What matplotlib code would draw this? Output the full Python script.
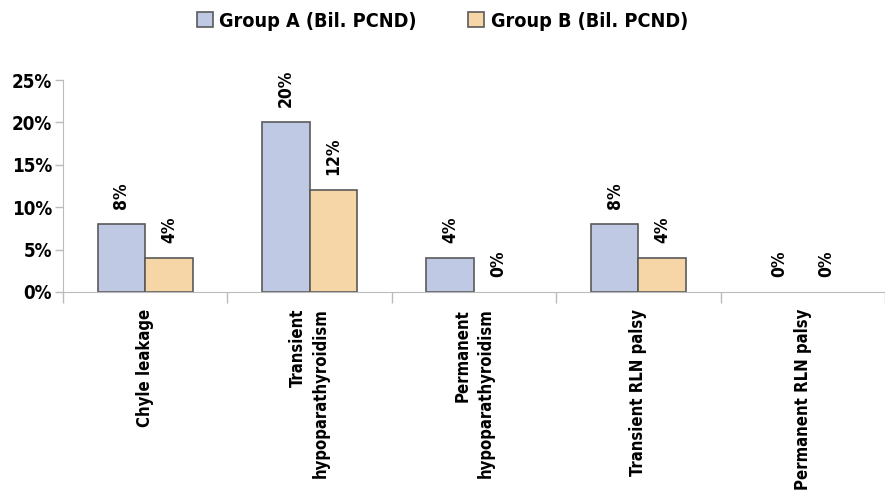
import matplotlib
matplotlib.use("Agg")
import matplotlib.pyplot as plt
import matplotlib.ticker as mtick
import numpy as np

# data
categories = ["Chyle leakage", "Transient\nhypoparathyroidism", "Permanent\nhypoparathyroidism",
              "Transient RLN palsy", "Permanent RLN palsy"]
group_a = [8, 20, 4, 8, 0]
group_b = [4, 12, 0, 4, 0]
series_names = ["Group A (Bil. PCND)", "Group B (Bil. PCND)"]

color_a = "#bfc9e4"
color_b = "#f6d6a6"
edge = "#5a5a5a"
axis_gray = "#bbbbbb"

plt.rcParams['font.family'] = ['DejaVu Sans']
plt.rcParams['font.stretch'] = 'condensed'
plt.rcParams['font.weight'] = 'bold'

fig = plt.figure(figsize=(8.85, 4.97), dpi=100)
ax = fig.add_axes([0.0712, 0.4125, 0.9288, 0.4265])

x = np.arange(len(categories))
w = 0.29
bars_a = ax.bar(x - w/2, group_a, w, color=color_a, edgecolor=edge, linewidth=1.2, label=series_names[0])
bars_b = ax.bar(x + w/2, group_b, w, color=color_b, edgecolor=edge, linewidth=1.2, label=series_names[1])

# value labels, no outline for empty bars
for bars, vals in ((bars_a, group_a), (bars_b, group_b)):
    for b, v in zip(bars, vals):
        if v == 0:
            b.set_linewidth(0)
        ax.annotate("%d%%" % v, (b.get_x() + b.get_width()/2, v), xytext=(0, 11),
                    textcoords="offset points", rotation=90, ha="center", va="bottom",
                    fontsize=12.5, fontweight="bold")

ax.set_xlim(-0.5, len(categories) - 0.5)
ax.set_ylim(0, 25)
ax.yaxis.set_major_locator(mtick.MultipleLocator(5))
ax.yaxis.set_major_formatter(mtick.FuncFormatter(lambda v, p: "%d%%" % v))

# category ticks at boundaries, labels at centers
ax.set_xticks(np.arange(-0.5, len(categories), 1.0))
ax.set_xticklabels([])
ax.set_xticks(x, minor=True)
ax.set_xticklabels(categories, minor=True, rotation=90, va="top", ha="center",
                   multialignment="right", linespacing=1.35, fontsize=12, fontweight="bold")
ax.tick_params(axis="x", which="minor", length=0, pad=12)
ax.tick_params(axis="x", which="major", length=8, color=axis_gray, width=1)
ax.tick_params(axis="y", length=6, color=axis_gray, width=1, labelsize=13.5, pad=2)
for lab in ax.get_yticklabels():
    lab.set_fontweight("bold")

for s in ["top", "right"]:
    ax.spines[s].set_visible(False)
ax.spines["left"].set_color(axis_gray)
ax.spines["bottom"].set_color(axis_gray)
ax.spines["left"].set_bounds(0, 25)

fig.legend(handles=[bars_a, bars_b], labels=series_names, loc="upper center",
           bbox_to_anchor=(0.5, 1.012), ncol=2, frameon=False,
           handlelength=0.8, handleheight=0.8, columnspacing=2.6, handletextpad=0.35,
           prop={'weight': 'bold', 'size': 14.2, 'stretch': 'condensed'})

fig.savefig("out.png", dpi=100)
